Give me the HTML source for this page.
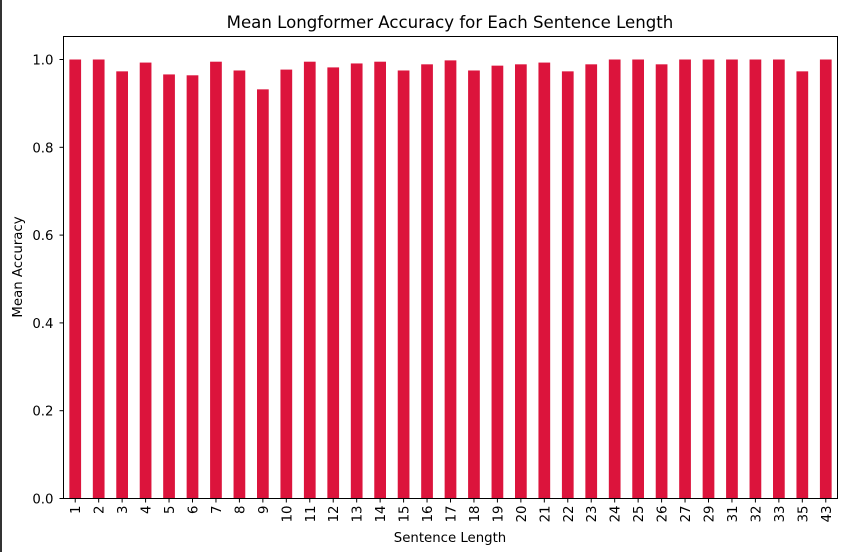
<!DOCTYPE html>
<html><head><meta charset="utf-8"><style>
body{margin:0;background:#fff;}
svg{display:block;font-family:"DejaVu Sans","Liberation Sans",sans-serif;}
</style></head><body>
<svg id="chart" width="847" height="552">
<rect x="0" y="0" width="2" height="552" fill="#333"/>
<text x="450" y="28" font-size="16.6" text-anchor="middle">Mean Longformer Accuracy for Each Sentence Length</text>
<g id="bars"></g><g id="yaxis"></g><g id="xaxis"></g>
<rect x="63.5" y="36.5" width="774" height="462" fill="none" stroke="#000" stroke-width="1"/>
<text x="450" y="542" font-size="13.3" text-anchor="middle">Sentence Length</text>
<text transform="translate(22,267) rotate(-90)" font-size="13.3" text-anchor="middle">Mean Accuracy</text>
</svg>
<script>
const categories=["1","2","3","4","5","6","7","8","9","10","11","12","13","14","15","16","17","18","19","20","21","22","23","24","25","26","27","29","31","32","33","35","43"];
const values=[1.0,1.0,0.973,0.993,0.966,0.964,0.995,0.975,0.932,0.977,0.995,0.982,0.991,0.995,0.975,0.989,0.998,0.975,0.986,0.989,0.993,0.973,0.989,1.0,1.0,0.989,1.0,1.0,1.0,1.0,1.0,0.973,1.0];
const yTicks=[0,0.2,0.4,0.6,0.8,1.0];
const NS="http://www.w3.org/2000/svg";
const L=63.5,R=837.5,T=36.5,B=498.5;
const yS=v=>B-v*439;
const step=(R-L)/categories.length;
const xS=i=>L+step*(i+0.5);
const bars=document.getElementById('bars'),ya=document.getElementById('yaxis'),xa=document.getElementById('xaxis');
function mk(t,a){const e=document.createElementNS(NS,t);for(const k in a)e.setAttribute(k,a[k]);return e;}
values.forEach((v,i)=>{
 const r=mk('rect',{x:xS(i)-step*0.25,y:yS(v),width:step*0.5,height:B-yS(v),fill:'#dc143c'});
 
 
 bars.appendChild(r);
 const tk=mk('line',{x1:xS(i),x2:xS(i),y1:B,y2:B+4,stroke:'#000'});
 
 
 xa.appendChild(tk);
 const t=mk('text',{transform:`translate(${xS(i)+5},${B+7}) rotate(-90)`,'font-size':13.3,'text-anchor':'end'});
 t.textContent=categories[i];
 
 
 xa.appendChild(t);
});
yTicks.forEach(v=>{
 const tk=mk('line',{x1:L-4,x2:L,y1:yS(v),y2:yS(v),stroke:'#000'});
 
 
 ya.appendChild(tk);
 const t=mk('text',{x:L-10,y:yS(v)+5,'font-size':13.3,'text-anchor':'end'});
 t.textContent=v.toFixed(1);
 
 
 ya.appendChild(t);
});
</script>
</body></html>
